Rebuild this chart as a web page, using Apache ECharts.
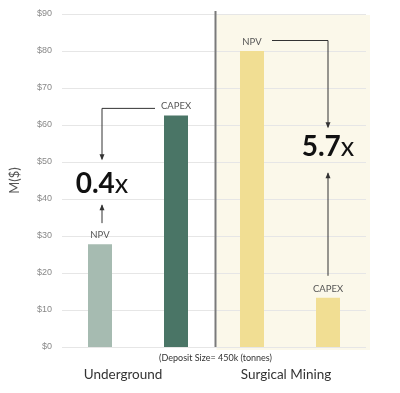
<!DOCTYPE html>
<html><head><meta charset="utf-8">
<script src="https://cdn.jsdelivr.net/npm/echarts@6/dist/echarts.min.js"></script>
<style>html,body{margin:0;padding:0;background:#fff}#c{width:400px;height:393px}</style>
</head><body><div id="c"></div>
<script>
const categories = ['Underground NPV', 'Underground CAPEX', 'Surgical NPV', 'Surgical CAPEX'];
const barLabels = ['NPV', 'CAPEX', 'NPV', 'CAPEX'];
const values = [27.8, 62.6, 80, 13.3];
const barColors = ['#a6bbb1', '#4a7566', '#f1de93', '#f1de93'];
const groupLabels = ['Underground', 'Surgical Mining'];
const ratios = ['0.4', '5.7'];
const yTicks = {min: 0, max: 90, interval: 10};

const chart = echarts.init(document.getElementById('c'));
const font = 'Lato, "Open Sans", sans-serif';
chart.setOption({
  animation: false,
  grid: {left: 62, right: 34, top: 14, bottom: 46},
  xAxis: {type: 'category', data: categories, axisLine: {show: false}, axisTick: {show: false}, axisLabel: {show: false}},
  yAxis: {type: 'value', min: yTicks.min, max: yTicks.max, interval: yTicks.interval,
    name: 'M($)', nameLocation: 'middle', nameGap: 41, nameRotate: 90,
    nameTextStyle: {fontSize: 13, color: '#555', fontFamily: font},
    axisLabel: {formatter: '${value}', fontSize: 9, color: '#888', fontFamily: 'Liberation Sans, Arial', margin: 10},
    splitLine: {lineStyle: {color: '#e6e6e6'}}},
  series: [{type: 'bar', barWidth: 24, z: 5,
    data: values.map((v, i) => ({value: v, itemStyle: {color: barColors[i]},
      label: {show: true, position: 'top', distance: 4, formatter: barLabels[i], fontSize: 9.5, color: '#555', fontFamily: font}}))
  }]
});

function draw() {
  const px = (i, v) => chart.convertToPixel({gridIndex: 0}, [i, v]);
  const lc = '#333';
  const g = [];
  const xs = values.map((v, i) => px(i, 0)[0]);
  const y0 = px(0, 0)[1];
  const yTop = px(0, yTicks.max)[1];
  const sepX = (xs[1] + xs[2]) / 2 + 1.5;
  const rightX = chart.getWidth() - 30;
  g.push({type: 'rect', z: -10, shape: {x: sepX + 1, y: yTop + 1, width: rightX - sepX - 1, height: y0 - yTop + 2}, style: {fill: '#fbf8ea'}});
  g.push({type: 'line', z: 10, shape: {x1: sepX, y1: yTop - 3, x2: sepX, y2: y0}, style: {stroke: '#7a7a7a', lineWidth: 2}});
  function arrowHead(x, y, dir) {
    return {type: 'polygon', z: 10, shape: {points: [[x - 2.5, y - 6 * dir], [x + 2.5, y - 6 * dir], [x, y]]}, style: {fill: lc}};
  }
  function poly(points) {
    return {type: 'polyline', z: 10, shape: {points}, style: {stroke: lc, lineWidth: 1, fill: null}};
  }
  const rich = {a: {fontSize: 28, fontWeight: 'bold', fontFamily: font, fill: '#111'}, b: {fontSize: 27, fontWeight: 'normal', fontFamily: font, fill: '#111'}};
  // Underground
  const uX = xs[0] + 2;
  const capTop = px(1, values[1])[1];
  const npvTop = px(0, values[0])[1];
  const uLineY = capTop - 7;
  const uRatioY = px(0, 44)[1];
  g.push(poly([[xs[1] - 21, uLineY], [uX, uLineY], [uX, uRatioY - 25]]));
  g.push(arrowHead(uX, uRatioY - 24, 1));
  g.push(poly([[uX, npvTop - 21], [uX, uRatioY + 21]]));
  g.push(arrowHead(uX, uRatioY + 20, -1));
  g.push({type: 'text', z: 10, x: uX, y: uRatioY, style: {text: '{a|' + ratios[0] + '}{b|x}', align: 'center', verticalAlign: 'middle', rich}});
  // Surgical
  const sX = xs[3];
  const sNpvTop = px(2, values[2])[1];
  const sCapTop = px(3, values[3])[1];
  const sLineY = sNpvTop - 10.5;
  const sRatioY = px(3, 54)[1];
  g.push(poly([[xs[2] + 20, sLineY], [sX, sLineY], [sX, sRatioY - 20]]));
  g.push(arrowHead(sX, sRatioY - 19, 1));
  g.push(poly([[sX, sCapTop - 22], [sX, sRatioY + 26]]));
  g.push(arrowHead(sX, sRatioY + 25, -1));
  g.push({type: 'text', z: 10, x: sX, y: sRatioY, style: {text: '{a|' + ratios[1] + '}{b|x}', align: 'center', verticalAlign: 'middle', rich}});
  // bottom texts
  g.push({type: 'text', x: sepX, y: y0 + 11, style: {text: '(Deposit Size= 450k (tonnes)', align: 'center', verticalAlign: 'middle', fontSize: 9, fontFamily: font, fill: '#333'}});
  g.push({type: 'text', x: (xs[0] + xs[1]) / 2 - 15, y: y0 + 28, style: {text: groupLabels[0], align: 'center', verticalAlign: 'middle', fontSize: 13.5, fontFamily: font, fill: '#333'}});
  g.push({type: 'text', x: (xs[2] + xs[3]) / 2 - 4, y: y0 + 28, style: {text: groupLabels[1], align: 'center', verticalAlign: 'middle', fontSize: 13.5, fontFamily: font, fill: '#333'}});
  chart.setOption({graphic: g});
}
draw();
</script></body></html>
